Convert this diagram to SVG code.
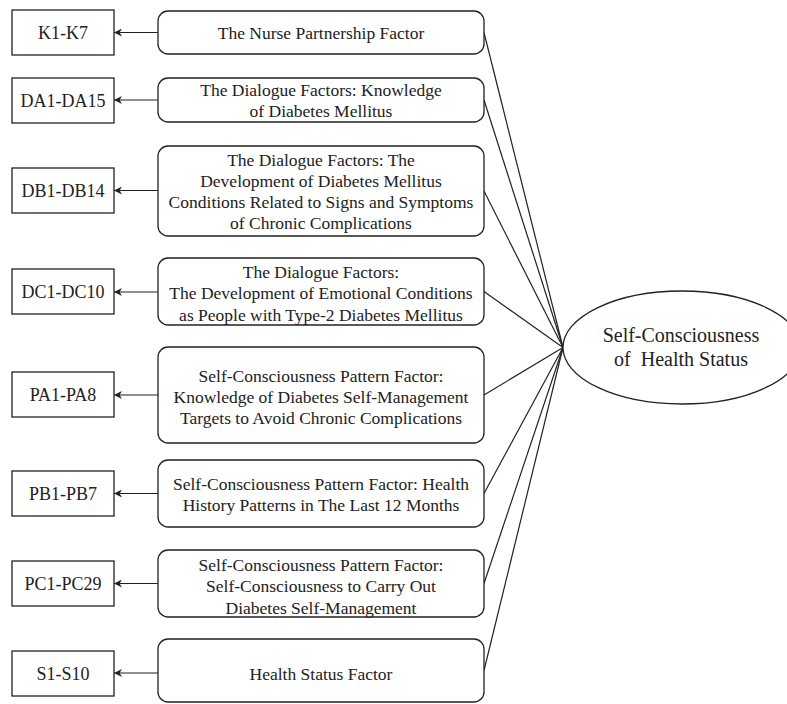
<svg xmlns="http://www.w3.org/2000/svg" width="787" height="704" viewBox="0 0 787 704">
<style>
.box{fill:#fff;stroke:#222;stroke-width:1.3}
.line{fill:none;stroke:#222;stroke-width:1.2}
text{font-family:'Liberation Serif','DejaVu Serif','Noto Serif',serif;fill:#222;text-anchor:middle}
.lbl{font-size:18px}
.mid{font-size:17.5px}
.ell{font-size:20px}
</style>
<defs>
<marker id="arr" viewBox="0 0 10 10" refX="10" refY="5" markerWidth="8" markerHeight="8" markerUnits="userSpaceOnUse" orient="auto">
<path d="M0,0 L10,5 L0,10 L3,5 z" fill="#222"/>
</marker>
</defs>
<rect width="787" height="704" fill="#fff"/>
<g id="connectors">
<line class="line" x1="158" y1="32.5" x2="114" y2="32.5" marker-end="url(#arr)"/>
<line class="line" x1="158" y1="100" x2="114" y2="100" marker-end="url(#arr)"/>
<line class="line" x1="158" y1="190.5" x2="114" y2="190.5" marker-end="url(#arr)"/>
<line class="line" x1="158" y1="292" x2="114" y2="292" marker-end="url(#arr)"/>
<line class="line" x1="158" y1="395" x2="114" y2="395" marker-end="url(#arr)"/>
<line class="line" x1="158" y1="493.5" x2="114" y2="493.5" marker-end="url(#arr)"/>
<line class="line" x1="158" y1="583.5" x2="114" y2="583.5" marker-end="url(#arr)"/>
<line class="line" x1="158" y1="673" x2="114" y2="673" marker-end="url(#arr)"/>
<line class="line" x1="484" y1="32.5" x2="563" y2="347.5"/>
<line class="line" x1="484" y1="100" x2="563" y2="347.5"/>
<line class="line" x1="484" y1="191" x2="563" y2="347.5"/>
<line class="line" x1="484" y1="291.5" x2="563" y2="347.5"/>
<line class="line" x1="484" y1="395" x2="563" y2="347.5"/>
<line class="line" x1="484" y1="493.5" x2="563" y2="347.5"/>
<line class="line" x1="484" y1="583.5" x2="563" y2="347.5"/>
<line class="line" x1="484" y1="670.5" x2="563" y2="347.5"/>
</g>
<g id="k"><rect class="box" x="12" y="10" width="102" height="45"/><text class="lbl" x="63" y="39">K1-K7</text></g>
<g id="da"><rect class="box" x="12" y="78" width="102" height="45"/><text class="lbl" x="63" y="107">DA1-DA15</text></g>
<g id="db"><rect class="box" x="12" y="168" width="102" height="45"/><text class="lbl" x="63" y="197">DB1-DB14</text></g>
<g id="dc"><rect class="box" x="12" y="269" width="102" height="45"/><text class="lbl" x="63" y="298">DC1-DC10</text></g>
<g id="pa"><rect class="box" x="12" y="372" width="102" height="45"/><text class="lbl" x="63" y="401">PA1-PA8</text></g>
<g id="pb"><rect class="box" x="12" y="471" width="102" height="45"/><text class="lbl" x="63" y="500">PB1-PB7</text></g>
<g id="pc"><rect class="box" x="12" y="561" width="102" height="45"/><text class="lbl" x="63" y="590">PC1-PC29</text></g>
<g id="s"><rect class="box" x="12" y="651" width="102" height="45"/><text class="lbl" x="63" y="680">S1-S10</text></g>
<g id="f1"><rect class="box" x="158" y="11" width="326" height="43" rx="10"/><text class="mid" x="321" y="39">The Nurse Partnership Factor</text></g>
<g id="f2"><rect class="box" x="158" y="78" width="326" height="44" rx="10"/><text class="mid" x="321" y="95.5">The Dialogue Factors: Knowledge</text><text class="mid" x="321" y="117">of Diabetes Mellitus</text></g>
<g id="f3"><rect class="box" x="158" y="146" width="326" height="90" rx="10"/><text class="mid" x="321" y="165.5">The Dialogue Factors: The</text><text class="mid" x="321" y="186.8">Development of Diabetes Mellitus</text><text class="mid" x="321" y="208.1">Conditions Related to Signs and Symptoms</text><text class="mid" x="321" y="229.4">of Chronic Complications</text></g>
<g id="f4"><rect class="box" x="158" y="258" width="326" height="67" rx="10"/><text class="mid" x="321" y="278">The Dialogue Factors:</text><text class="mid" x="321" y="299.3">The Development of Emotional Conditions</text><text class="mid" x="321" y="320.6">as People with Type-2 Diabetes Mellitus</text></g>
<g id="f5"><rect class="box" x="158" y="347" width="326" height="96" rx="10"/><text class="mid" x="321" y="381.5">Self-Consciousness Pattern Factor:</text><text class="mid" x="321" y="402.8">Knowledge of Diabetes Self-Management</text><text class="mid" x="321" y="424.1">Targets to Avoid Chronic Complications</text></g>
<g id="f6"><rect class="box" x="158" y="460" width="326" height="67" rx="10"/><text class="mid" x="321" y="489.5">Self-Consciousness Pattern Factor: Health</text><text class="mid" x="321" y="510.8">History Patterns in The Last 12 Months</text></g>
<g id="f7"><rect class="box" x="158" y="550" width="326" height="67" rx="10"/><text class="mid" x="321" y="571">Self-Consciousness Pattern Factor:</text><text class="mid" x="321" y="592.3">Self-Consciousness to Carry Out</text><text class="mid" x="321" y="613.6">Diabetes Self-Management</text></g>
<g id="f8"><rect class="box" x="158" y="639" width="326" height="63" rx="10"/><text class="mid" x="321" y="680">Health Status Factor</text></g>
<g id="outcome"><ellipse class="box" cx="682" cy="347.5" rx="119" ry="56.5"/><text class="ell" x="681" y="342">Self-Consciousness</text><text class="ell" x="681" y="366" xml:space="preserve">of  Health Status</text></g>
</svg>
